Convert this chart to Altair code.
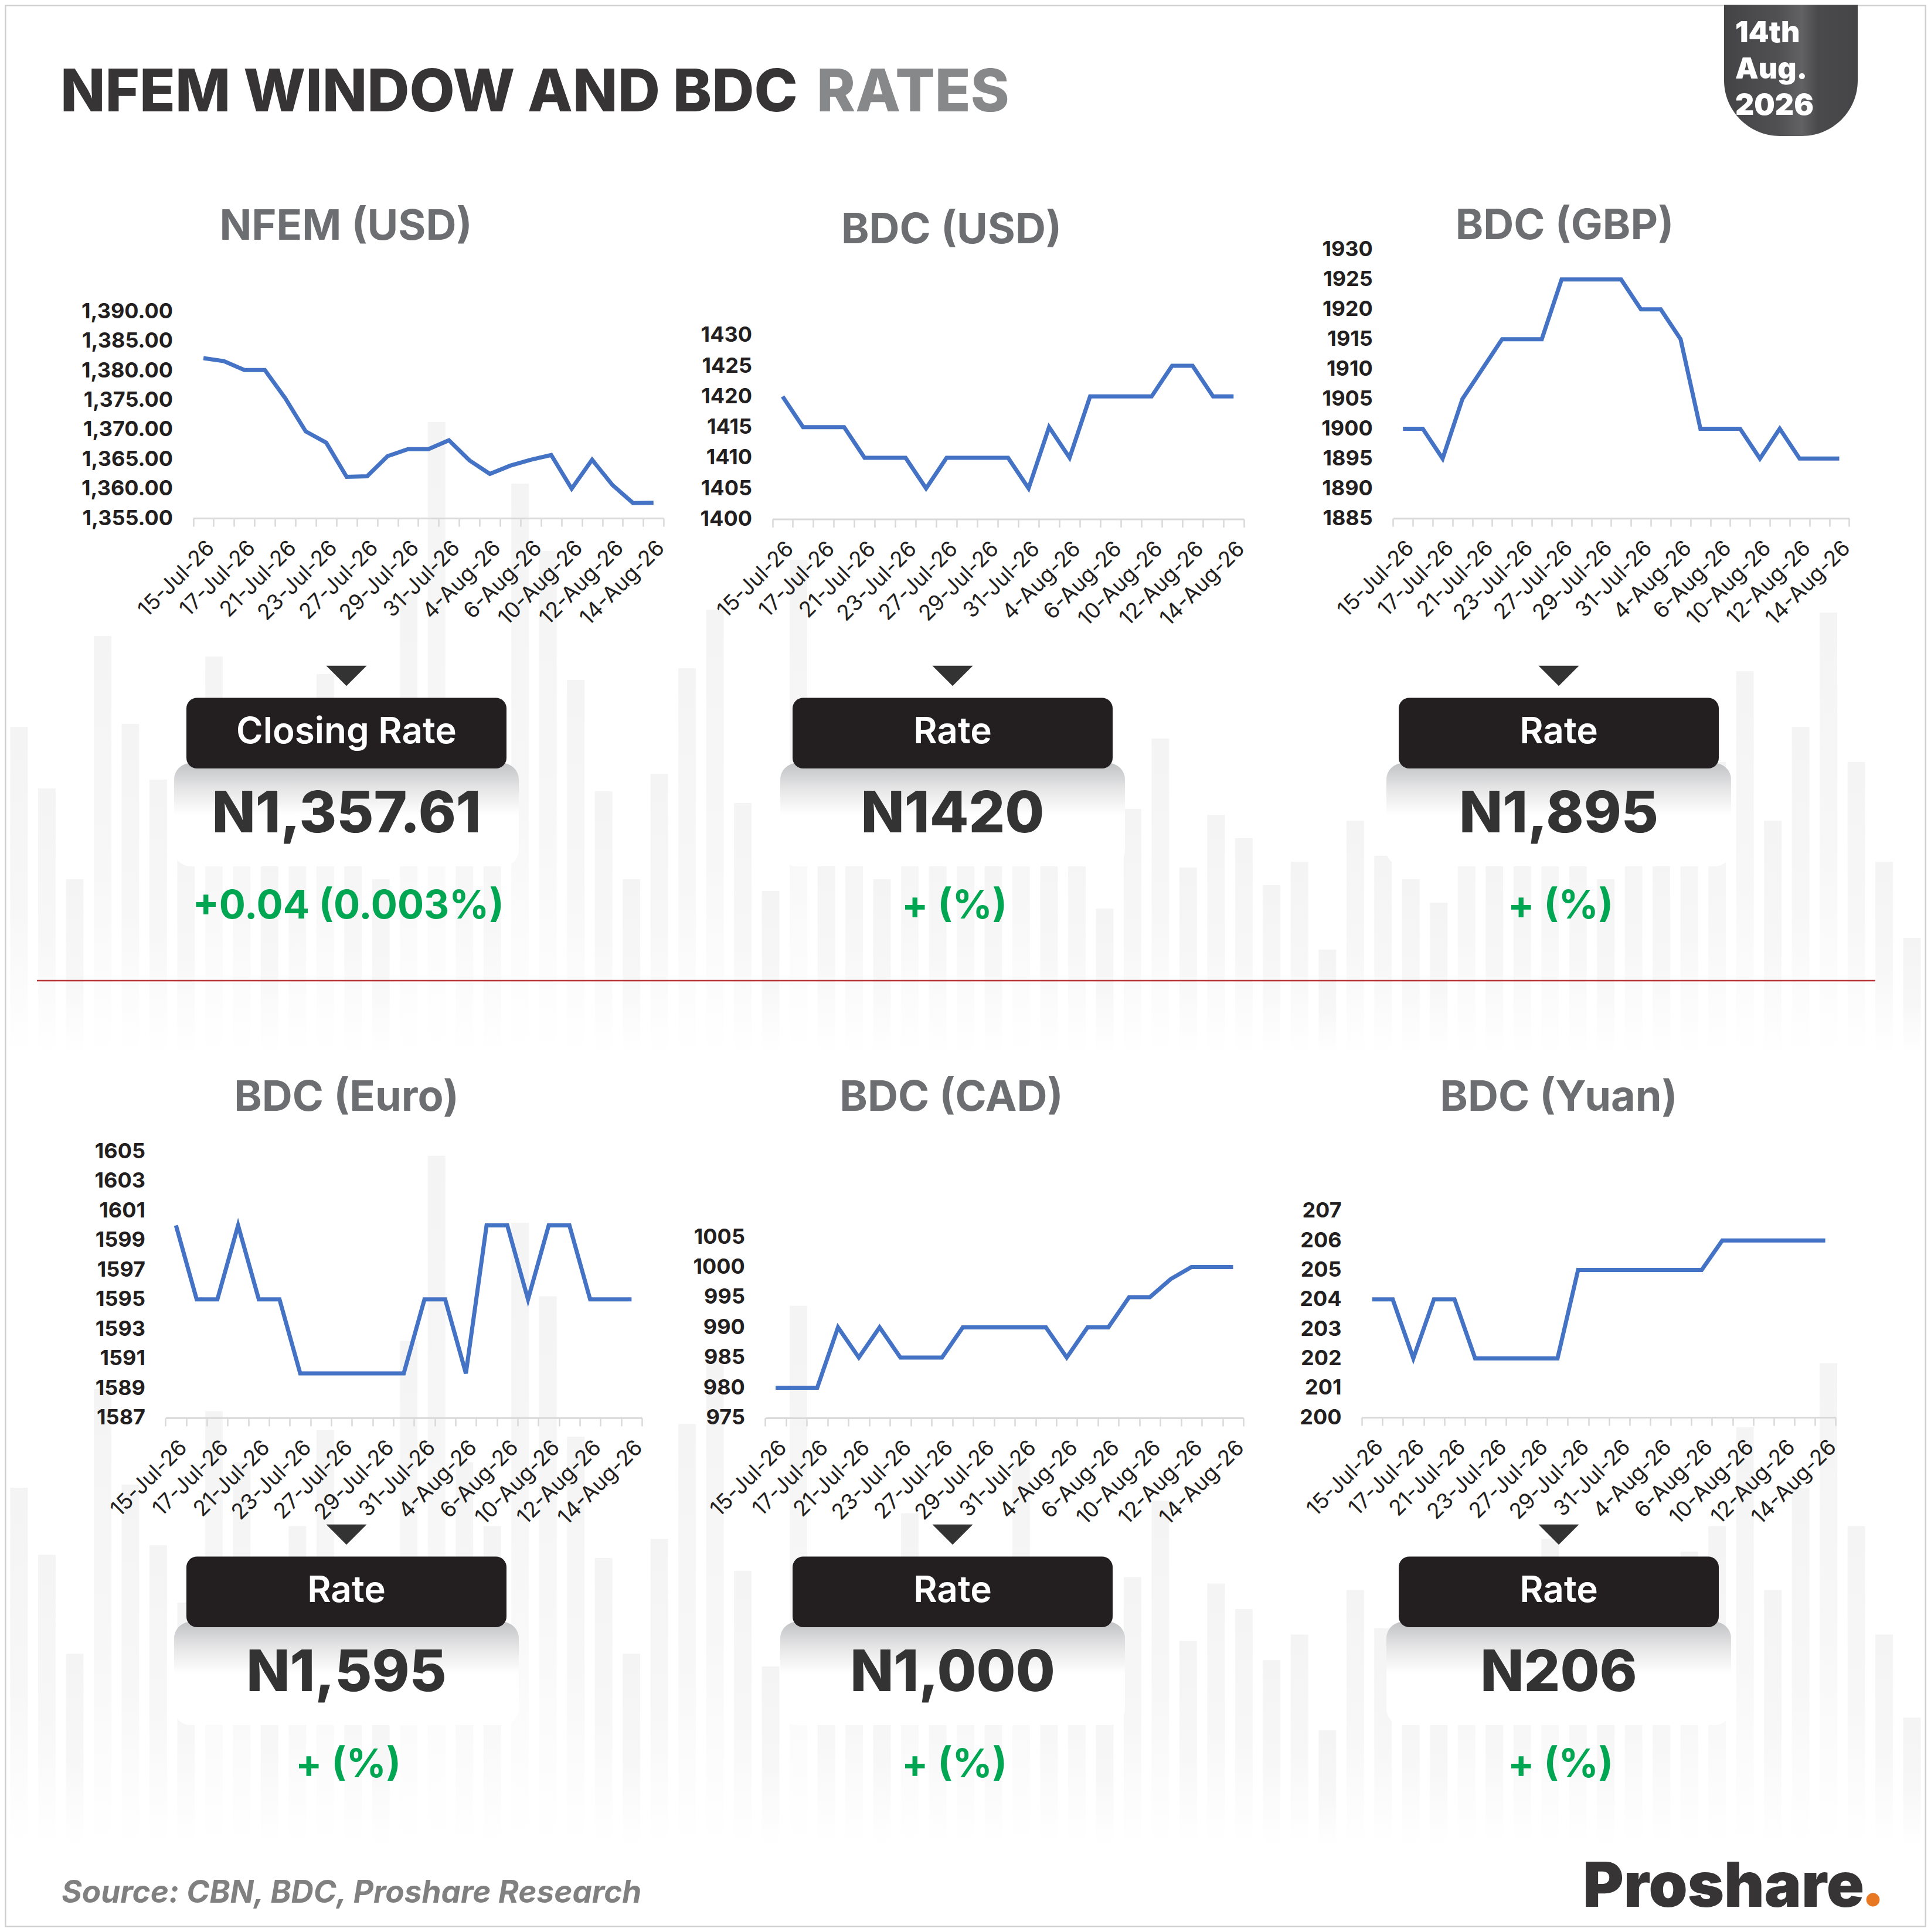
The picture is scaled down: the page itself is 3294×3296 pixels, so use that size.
import json
import altair as alt
import pandas as pd

# ---------------- data ----------------
dates = ["15-Jul-26", "16-Jul-26", "17-Jul-26", "20-Jul-26", "21-Jul-26", "22-Jul-26",
         "23-Jul-26", "24-Jul-26", "27-Jul-26", "28-Jul-26", "29-Jul-26", "30-Jul-26",
         "31-Jul-26", "3-Aug-26", "4-Aug-26", "5-Aug-26", "6-Aug-26", "7-Aug-26",
         "10-Aug-26", "11-Aug-26", "12-Aug-26", "13-Aug-26", "14-Aug-26"]
label_dates = ["15-Jul-26", "17-Jul-26", "21-Jul-26", "23-Jul-26", "27-Jul-26", "29-Jul-26",
               "31-Jul-26", "4-Aug-26", "6-Aug-26", "10-Aug-26", "12-Aug-26", "14-Aug-26"]

nfem_usd = [1382.1, 1381.6, 1380.1, 1380.1, 1375.3, 1369.7, 1367.8, 1362.0, 1362.1, 1365.5,
            1366.7, 1366.7, 1368.2, 1364.8, 1362.5, 1363.9, 1364.9, 1365.7, 1360.0, 1364.9,
            1360.6, 1357.57, 1357.61]
bdc_usd = [1420, 1415, 1415, 1415, 1410, 1410, 1410, 1405, 1410, 1410, 1410, 1410, 1405,
           1415, 1410, 1420, 1420, 1420, 1420, 1425, 1425, 1420, 1420]
bdc_gbp = [1900, 1900, 1895, 1905, 1910, 1915, 1915, 1915, 1925, 1925, 1925, 1925, 1920,
           1920, 1915, 1900, 1900, 1900, 1895, 1900, 1895, 1895, 1895]
bdc_eur = [1600, 1595, 1595, 1600, 1595, 1595, 1590, 1590, 1590, 1590, 1590, 1590, 1595,
           1595, 1590, 1600, 1600, 1595, 1600, 1600, 1595, 1595, 1595]
bdc_cad = [980, 980, 980, 990, 985, 990, 985, 985, 985, 990, 990, 990, 990, 990, 985, 990,
           990, 995, 995, 998, 1000, 1000, 1000]
bdc_yuan = [204, 204, 202, 204, 204, 202, 202, 202, 202, 202, 205, 205, 205, 205, 205, 205,
            205, 206, 206, 206, 206, 206, 206]

ticks_nfem = [1355, 1360, 1365, 1370, 1375, 1380, 1385, 1390]
ticks_usd = [1400, 1405, 1410, 1415, 1420, 1425, 1430]
ticks_gbp = [1885, 1890, 1895, 1900, 1905, 1910, 1915, 1920, 1925, 1930]
ticks_eur = [1587, 1589, 1591, 1593, 1595, 1597, 1599, 1601, 1603, 1605]
ticks_cad = [975, 980, 985, 990, 995, 1000, 1005]
ticks_yuan = [200, 201, 202, 203, 204, 205, 206, 207]

panel_titles = ["NFEM (USD)", "BDC (USD)", "BDC (GBP)", "BDC (Euro)", "BDC (CAD)", "BDC (Yuan)"]
box_labels = ["Closing Rate", "Rate", "Rate", "Rate", "Rate", "Rate"]
rate_values = ["N1,357.61", "N1420", "N1,895", "N1,595", "N1,000", "N206"]
rate_changes = ["+0.04 (0.003%)", "+ (%)", "+ (%)", "+ (%)", "+ (%)", "+ (%)"]
badge_lines = ["14th", "Aug.", "2026"]

# faint decorative background bars (relative heights)
bg_bars = [560, 455, 300, 715, 565, 470, 380, 680, 600, 350, 500, 650, 420, 300, 790, 1080,
           600, 500, 975, 860, 640, 450, 300, 480, 660, 760, 430, 280, 845, 360, 420, 300,
           520, 380, 450, 330, 600, 380, 400, 250, 420, 540, 320, 410, 370, 290, 330, 180,
           400, 340, 300, 260, 440, 330, 360, 480, 380, 300, 410, 350, 460, 500, 655, 400,
           560, 755, 500, 330, 200]

# ---------------- layout ----------------
W, H = 3278, 3280
FONT = "Inter"


def C(v):
    return v - 8


one = pd.DataFrame({"k": [0]})


def text(s, x, y, size, color, weight="normal", align="center", style="normal", **kw):
    return alt.Chart(pd.DataFrame({"t": [s]})).mark_text(
        align=align, baseline="alphabetic", fontSize=size, fontWeight=weight,
        color=color, font=FONT, fontStyle=style, **kw
    ).encode(text="t:N", x=alt.value(C(x)), y=alt.value(C(y)))


def rect(x0, x1, y0, y1, **kw):
    return alt.Chart(one).mark_rect(**kw).encode(
        x=alt.value(C(x0)), x2=alt.value(C(x1)), y=alt.value(C(y0)), y2=alt.value(C(y1)))


layers = []

# background bars
bar_df = pd.DataFrame({"i": list(range(len(bg_bars))), "h": bg_bars})
bar_grad = alt.Gradient(gradient="linear", x1=0, x2=0, y1=0, y2=1, stops=[
    alt.GradientStop(color="#f4f4f4", offset=0),
    alt.GradientStop(color="#f7f7f7", offset=0.55),
    alt.GradientStop(color="#ffffff", offset=1)])
for rng in ([1792, 692], [3140, 1942]):
    layers.append(alt.Chart(bar_df).mark_bar(color=bar_grad).encode(
        x=alt.X("i:O", axis=None, scale=alt.Scale(type="band", range=[0, W],
                                                   paddingInner=0.37, paddingOuter=0.2)),
        y=alt.Y("h:Q", axis=None, scale=alt.Scale(domain=[0, 1100], range=rng, nice=False))))

# border
layers.append(rect(9, 3285, 9, 3287, fillOpacity=0, stroke="#cfcfcf", strokeWidth=3))

# header
layers.append(text("NFEM WINDOW AND BDC", 103, 190, 100, "#363435", weight=800, align="left"))
layers.append(text("RATES", 1393, 190, 100, "#87888a", weight=800, align="left"))

# date badge
badge_grad = alt.Gradient(gradient="linear", x1=0, x2=1, y1=0, y2=0, stops=[
    alt.GradientStop(color="#444446", offset=0),
    alt.GradientStop(color="#505052", offset=0.4),
    alt.GradientStop(color="#626264", offset=0.58),
    alt.GradientStop(color="#4a4a4c", offset=0.7),
    alt.GradientStop(color="#454547", offset=1)])
layers.append(rect(2941, 3169, 0, 232, color=badge_grad,
                   cornerRadiusBottomLeft=95, cornerRadiusBottomRight=95))
for s, yb in zip(badge_lines, (72, 134, 196)):
    layers.append(text(s, 2960, yb, 50, "#ffffff", weight=900, align="left"))

# separator
layers.append(alt.Chart(one).mark_rule(color="#b8343a", strokeWidth=2.5).encode(
    x=alt.value(C(63)), x2=alt.value(C(3199)), y=alt.value(C(1673))))

# footer
layers.append(text("Source: CBN, BDC, Proshare Research", 105, 3246, 53, "#808080",
                   weight=700, align="left", style="italic"))
layers.append(text("Proshare", 3180, 3253, 106, "#363435", weight=900, align="right"))
layers.append(alt.Chart(one).mark_point(shape="circle", filled=True, size=520,
                                        color="#e87722", opacity=1).encode(
    x=alt.value(C(3195)), y=alt.value(C(3241))))

# panels
panels = [
    dict(vals=nfem_usd, xr=[329.6, 1132.2], dom=[1355, 1390], yr=[884.1, 531.4],
         ticks=ticks_nfem, fmt=",.2f", tx=590, ty=409),
    dict(vals=bdc_usd, xr=[1317.5, 2121.8], dom=[1400, 1430], yr=[885.5, 571.8],
         ticks=ticks_usd, fmt="d", tx=1623, ty=415),
    dict(vals=bdc_gbp, xr=[2376.3, 3154.4], dom=[1885, 1930], yr=[884.2, 425.9],
         ticks=ticks_gbp, fmt="d", tx=2669, ty=408),
    dict(vals=bdc_eur, xr=[282.5, 1095.0], dom=[1587, 1605], yr=[2418.8, 1964.2],
         ticks=ticks_eur, fmt="d", tx=591, ty=1895),
    dict(vals=bdc_cad, xr=[1305.4, 2121.2], dom=[975, 1005], yr=[2418.9, 2110.0],
         ticks=ticks_cad, fmt="d", tx=1623, ty=1895),
    dict(vals=bdc_yuan, xr=[2323.1, 3131.2], dom=[200, 207], yr=[2418.0, 2065.9],
         ticks=ticks_yuan, fmt="d", tx=2659, ty=1895),
]

label_expr = "indexof(%s, datum.label) >= 0 ? datum.label : ''" % json.dumps(label_dates)

col_cx = [591, 1625, 2659, 591, 1625, 2659]
row_dy = [0, 0, 0, 1465, 1465, 1465]

gray_grad = alt.Gradient(gradient="linear", x1=0, x2=0, y1=0, y2=1, stops=[
    alt.GradientStop(color="#c2c3c5", offset=0),
    alt.GradientStop(color="#e6e6e7", offset=0.25),
    alt.GradientStop(color="#ffffff", offset=0.5),
    alt.GradientStop(color="#ffffff", offset=1)])

for k, p in enumerate(panels):
    cx, dy = col_cx[k], row_dy[k]
    # rate box decorations
    layers.append(rect(cx - 294, cx + 294, 1302 + dy, 1478 + dy, color=gray_grad, cornerRadius=28))
    layers.append(rect(cx - 273, cx + 273, 1190.5 + dy, 1311 + dy, color="#231f20", cornerRadius=18))
    layers.append(alt.Chart(one).mark_point(shape="M-1,-0.5L1,-0.5L0,0.5Z", size=4761,
                                            filled=True, color="#333333", opacity=1).encode(
        x=alt.value(C(cx)), y=alt.value(C(1153 + dy))))
    layers.append(text(box_labels[k], cx, 1268 + dy, 62, "#ffffff", weight=600))
    layers.append(text(rate_values[k], cx, 1420 + dy, 97, "#333333", weight=800))
    layers.append(text(rate_changes[k], cx + 3, 1567 + dy, 67, "#00a651", weight=700))
    # panel title
    layers.append(text(panel_titles[k], p["tx"], p["ty"], 72, "#6d6e71", weight=700))

    # line chart
    df = pd.DataFrame({"date": dates, "value": p["vals"], "idx": list(range(len(dates)))})
    x0, x1 = C(p["xr"][0]), C(p["xr"][1])
    yb, yt = C(p["yr"][0]), C(p["yr"][1])
    xaxis = alt.Axis(orient="bottom", offset=yb - H, tickBand="extent", labelExpr=label_expr,
                     labelAngle=-45, labelFontSize=37, labelFont=FONT, labelColor="#231f20",
                     labelPadding=18, tickSize=14, tickColor="#d9d9d9", tickWidth=2.5,
                     domainColor="#d9d9d9", domainWidth=3, grid=False, title=None,
                     labelOverlap=False, labelLimit=500, zindex=1)
    yaxis = alt.Axis(orient="left", offset=-x0, values=p["ticks"], format=p["fmt"], ticks=False,
                     tickSize=0, domain=False, grid=False, title=None, labelFontSize=36,
                     labelFontWeight=700, labelFont=FONT, labelColor="#231f20",
                     labelPadding=35, labelOverlap=False, zindex=1)
    layers.append(alt.Chart(df).mark_line(color="#4472c4", strokeWidth=7).encode(
        x=alt.X("date:N", sort=dates, bandPosition=0.5, axis=xaxis,
                scale=alt.Scale(type="band", domain=dates, range=[x0, x1],
                                paddingInner=0, paddingOuter=0)),
        y=alt.Y("value:Q", axis=yaxis,
                scale=alt.Scale(domain=p["dom"], range=[yb, yt], zero=False, nice=False)),
        order=alt.Order("idx:Q")))

chart = alt.layer(*layers).resolve_scale(x="independent", y="independent").properties(
    width=W, height=H, autosize=alt.AutoSizeParams(type="none"), padding=0,
    background="#ffffff"
).configure_view(stroke=None)

chart.save("out.html", embed_options={"renderer": "svg", "actions": False})
